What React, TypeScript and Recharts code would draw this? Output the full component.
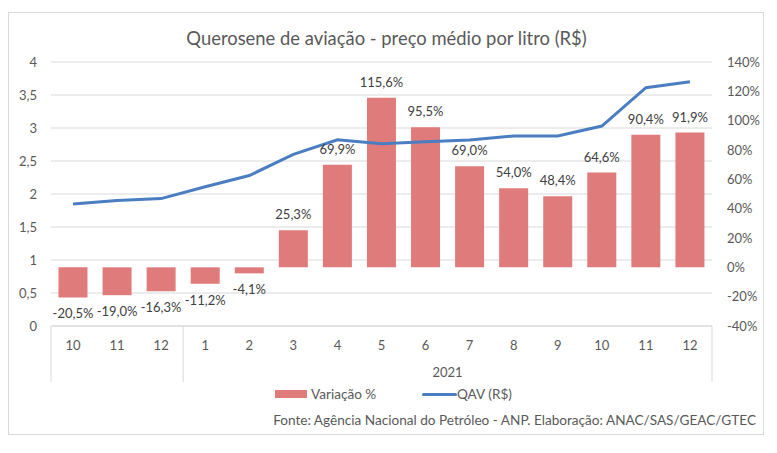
import { ComposedChart, Bar, Line, XAxis, YAxis, CartesianGrid, Legend, LabelList } from "recharts";

const months = ["10", "11", "12", "1", "2", "3", "4", "5", "6", "7", "8", "9", "10", "11", "12"];
const years = ["", "", "", "2021", "2021", "2021", "2021", "2021", "2021", "2021", "2021", "2021", "2021", "2021", "2021"];
const variacao = [-20.5, -19.0, -16.3, -11.2, -4.1, 25.3, 69.9, 115.6, 95.5, 69.0, 54.0, 48.4, 64.6, 90.4, 91.9];
const qav = [1.85, 1.9, 1.93, 2.11, 2.28, 2.6, 2.82, 2.76, 2.79, 2.82, 2.88, 2.88, 3.03, 3.61, 3.7];
const leftTicks = [0, 0.5, 1, 1.5, 2, 2.5, 3, 3.5, 4];
const rightTicks = [-40, -20, 0, 20, 40, 60, 80, 100, 120, 140];

const data = months.map((m, i) => ({ key: i, month: m, year: years[i], pct: variacao[i], qav: qav[i] }));

const FONT = "Lato, 'Open Sans', sans-serif";
const TXT = "#595959";
const GRID = "#D9D9D9";
const RED = "#E07B7B";
const BLUE = "#4A7EC1";
const BAND = 661 / months.length;

const comma = (v: number, d = 1) => v.toFixed(d).replace(".", ",");

function MonthTick(props: any) {
  const { x, y, payload } = props;
  const i = payload.index;
  const half = BAND / 2;
  const yr = years[i];
  const starts = i === 0 || years[i - 1] !== yr;
  let n = 0;
  if (starts) {
    while (i + n < years.length && years[i + n] === yr) n++;
  }
  return (
    <g>
      <text x={x} y={y + 24} textAnchor="middle" fontSize={13} fill={TXT} fontFamily={FONT}>
        {months[i]}
      </text>
      {starts && <line x1={x - half} x2={x - half} y1={y} y2={y + 56} stroke={GRID} />}
      {i === months.length - 1 && <line x1={x + half} x2={x + half} y1={y} y2={y + 56} stroke={GRID} />}
      {starts && yr && (
        <text x={x - half + (n * BAND) / 2} y={y + 51} textAnchor="middle" fontSize={13} fill={TXT} fontFamily={FONT}>
          {yr}
        </text>
      )}
    </g>
  );
}

function BarLabel(props: any) {
  const { x, y, width, height, value } = props;
  const top = Math.min(y, y + height);
  const bottom = Math.max(y, y + height);
  const ty = value >= 0 ? top - 11 : bottom + 21;
  return (
    <text x={x + width / 2} y={ty} textAnchor="middle" fontSize={13} fill="#404040" fontFamily={FONT}>
      {comma(value)}%
    </text>
  );
}

function LegendBox() {
  return (
    <div style={{ fontFamily: FONT, color: TXT, fontSize: 13.6, lineHeight: "16px" }}>
      <div style={{ display: "flex", alignItems: "center", paddingLeft: 275 }}>
        <span style={{ display: "flex", alignItems: "center", width: 147 }}>
          <span style={{ width: 32, height: 8, background: RED, display: "inline-block", marginRight: 4 }} />
          Variação %
        </span>
        <span style={{ display: "flex", alignItems: "center" }}>
          <span style={{ width: 35, height: 3, background: BLUE, display: "inline-block", borderRadius: 2 }} />
          QAV (R$)
        </span>
      </div>
      <div style={{ textAlign: "right", marginTop: 10, paddingRight: 21 }}>
        Fonte: Agência Nacional do Petróleo - ANP. Elaboração: ANAC/SAS/GEAC/GTEC
      </div>
    </div>
  );
}

export default function App() {
  return (
    <div style={{ position: "absolute", left: 0, top: 0, width: 777, height: 453, background: "#fff" }}>
      <div
        style={{
          position: "absolute",
          left: 8,
          top: 12,
          width: 756,
          height: 423,
          border: "1px solid #D9D9D9",
          boxSizing: "border-box",
        }}
      />
      <div
        style={{
          position: "absolute",
          left: 0,
          top: 27,
          width: 773,
          textAlign: "center",
          fontFamily: FONT,
          fontSize: 18.4,
          color: TXT,
        }}
      >
        Querosene de aviação - preço médio por litro (R$)
      </div>
      <ComposedChart
        width={777}
        height={453}
        data={data}
        margin={{ top: 62, right: 15, bottom: 71, left: 11 }}
        barCategoryGap="17%"
        style={{ position: "absolute", left: 0, top: 0 }}
      >
        <CartesianGrid yAxisId="left" vertical={false} stroke={GRID} />
        <XAxis
          dataKey="key"
          height={56}
          tickLine={false}
          tickSize={0}
          tickMargin={0}
          axisLine={{ stroke: GRID }}
          tick={<MonthTick />}
          interval={0}
        />
        <YAxis
          yAxisId="left"
          domain={[0, 4]}
          ticks={leftTicks}
          width={40}
          axisLine={false}
          tickLine={false}
          tickSize={0}
          tickMargin={14}
          tickFormatter={(v: number) => String(v).replace(".", ",")}
          tick={{ fontSize: 13, fill: TXT, fontFamily: FONT }}
        />
        <YAxis
          yAxisId="right"
          orientation="right"
          domain={[-40, 140]}
          ticks={rightTicks}
          width={50}
          axisLine={false}
          tickLine={false}
          tickSize={0}
          tickMargin={15}
          tickFormatter={(v: number) => `${v}%`}
          tick={{ fontSize: 13, fill: TXT, fontFamily: FONT }}
        />
        <Bar yAxisId="right" dataKey="pct" name="Variação %" fill={RED} isAnimationActive={false}>
          <LabelList dataKey="pct" content={<BarLabel />} />
        </Bar>
        <Line
          yAxisId="left"
          dataKey="qav"
          name="QAV (R$)"
          stroke={BLUE}
          strokeWidth={3}
          dot={false}
          type="linear"
          isAnimationActive={false}
        />
        <Legend
          layout="horizontal"
          verticalAlign="middle"
          align="center"
          content={<LegendBox />}
          wrapperStyle={{ top: 386, left: 0, width: 777 }}
        />
      </ComposedChart>
    </div>
  );
}
